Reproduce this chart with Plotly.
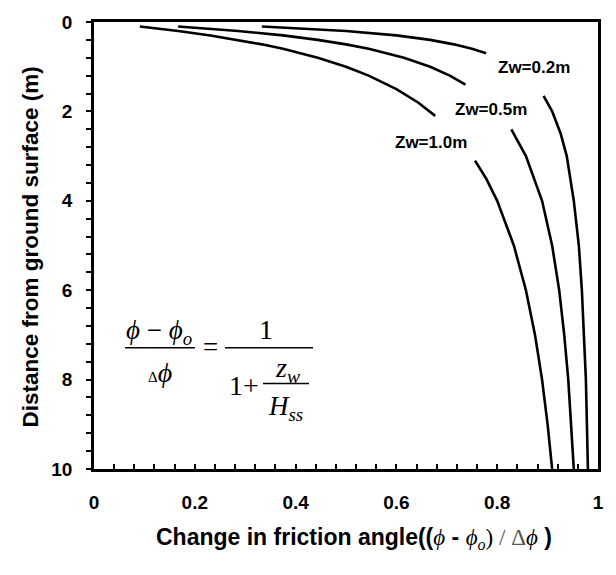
import plotly.graph_objects as go

# Depths (m) and normalised change in friction angle.
# None marks the gap where each curve is broken for its label.
depth_02 = [0.1, 0.15, 0.2, 0.3, 0.4, 0.5, 0.6, 0.7, None,
            1.65, 2.0, 2.5, 3.0, 4.0, 5.0, 6.0, 7.0, 8.0, 9.0, 10.0]
ratio_02 = [0.333, 0.429, 0.5, 0.6, 0.667, 0.714, 0.75, 0.778, None,
            0.892, 0.909, 0.926, 0.938, 0.952, 0.962, 0.968, 0.972, 0.976, 0.978, 0.980]

depth_05 = [0.1, 0.15, 0.2, 0.3, 0.4, 0.5, 0.6, 0.8, 1.0, 1.2, 1.4, None,
            2.4, 3.0, 4.0, 5.0, 6.0, 7.0, 8.0, 9.0, 10.0]
ratio_05 = [0.167, 0.231, 0.286, 0.375, 0.444, 0.5, 0.545, 0.615, 0.667, 0.706, 0.737, None,
            0.828, 0.857, 0.889, 0.909, 0.923, 0.933, 0.941, 0.947, 0.952]

depth_10 = [0.1, 0.15, 0.2, 0.3, 0.4, 0.5, 0.6, 0.8, 1.0, 1.2, 1.5, 1.8, 2.1, None,
            3.1, 3.5, 4.0, 5.0, 6.0, 7.0, 8.0, 9.0, 10.0]
ratio_10 = [0.091, 0.130, 0.167, 0.231, 0.286, 0.333, 0.375, 0.444, 0.5, 0.545, 0.6, 0.643, 0.677, None,
            0.756, 0.778, 0.8, 0.833, 0.857, 0.875, 0.889, 0.9, 0.909]

series_labels = ["Zw=0.2m", "Zw=0.5m", "Zw=1.0m"]
x_ticks = [0, 0.2, 0.4, 0.6, 0.8, 1]
x_tick_text = ["0", "0.2", "0.4", "0.6", "0.8", "1"]
y_ticks = [0, 2, 4, 6, 8, 10]
y_tick_text = ["0", "2", "4", "6", "8", "10"]

# plot-area pixel geometry (for placing text drawn on the chart)
L, R, T, B = 94, 598, 19, 469
W, H = 616, 575


def dx(px):
    return (px - L) / (R - L)


def dy(py):
    return (py - T) / (B - T) * 10


def paper_x(px):
    return (px - L) / (R - L)


def paper_y(py):
    return (B - py) / (B - T)


fig = go.Figure()
for xs, ys in [(ratio_02, depth_02), (ratio_05, depth_05), (ratio_10, depth_10)]:
    fig.add_trace(go.Scatter(x=xs, y=ys, mode="lines", connectgaps=False,
                             line=dict(color="black", width=2.6), showlegend=False))

label_pos = [(534, 65), (491, 107), (431, 140)]
for txt, (px, py) in zip(series_labels, label_pos):
    fig.add_annotation(x=dx(px), y=dy(py), text="<b>" + txt + "</b>", showarrow=False,
                       font=dict(family="Liberation Sans", size=17, color="black"),
                       xanchor="center", yanchor="middle")

PHI = "ϕ"
serif = "Liberation Serif"
eq = [
    (f"<i>{PHI}</i> − <i>{PHI}<sub>o</sub></i>", 159, 331, 27),
    (f"<span style='font-size:15px'>Δ</span><i>{PHI}</i>", 160, 372, 28),
    ("=", 210, 346, 27),
    ("1", 266, 329, 28),
    ("1+", 244, 385, 28),
    ("<i>z<sub>w</sub></i>", 287, 369, 28),
    ("<i>H<sub>ss</sub></i>", 285, 408, 27),
]
for txt, px, py, sz in eq:
    fig.add_annotation(x=dx(px), y=dy(py), text=txt, showarrow=False,
                       font=dict(family=serif, size=sz, color="black"),
                       xanchor="center", yanchor="middle")

for x0, x1, yy in [(125, 195, 347), (225, 313, 347), (263, 309, 383)]:
    fig.add_shape(type="line", x0=dx(x0), x1=dx(x1), y0=dy(yy), y1=dy(yy),
                  xref="x", yref="y", line=dict(color="black", width=1.5))

SP = "<span style='font-family:Liberation Serif;font-weight:normal'>"
xtitle = ("Change in friction angle(("
          + SP + f"<i>{PHI}</i></span>"
          + " - "
          + SP + f"<i>{PHI}<sub>o</sub></i></span>"
          + SP + ")</span>"
          + "<span style='font-family:Liberation Serif;font-weight:normal;color:#555'> / Δ</span>"
          + SP + f"<i>{PHI}</i></span>"
          + " )")

# axis titles placed as paper annotations
fig.add_annotation(xref="paper", yref="paper", x=paper_x(354), y=paper_y(539),
                   text="<b>" + xtitle + "</b>", showarrow=False,
                   font=dict(family="Liberation Sans", size=23, color="black"),
                   xanchor="center", yanchor="middle")
fig.add_annotation(xref="paper", yref="paper", x=paper_x(30), y=paper_y(246),
                   text="<b>Distance from ground surface (m)</b>", showarrow=False,
                   textangle=-90,
                   font=dict(family="Liberation Sans", size=22.5, color="black"),
                   xanchor="center", yanchor="middle")

fig.update_layout(
    width=W, height=H,
    margin=dict(l=L, r=W - R, t=T, b=H - B),
    paper_bgcolor="white", plot_bgcolor="white",
    font=dict(family="Liberation Sans", color="black"),
    xaxis=dict(range=[0, 1], tickvals=x_ticks, ticktext=x_tick_text,
               ticks="inside", ticklen=5, tickwidth=1.5, tickcolor="black",
               minor=dict(dtick=0.04, ticks="inside", ticklen=5, tickwidth=1.5, tickcolor="black"),
               showgrid=False, zeroline=False,
               showline=True, linecolor="black", linewidth=2.5, mirror=True,
               tickfont=dict(size=19, family="Liberation Sans", weight="bold"),
               ticklabelstandoff=14),
    yaxis=dict(range=[10, 0], tickvals=y_ticks, ticktext=y_tick_text,
               ticks="outside", ticklen=5, tickwidth=1.5, tickcolor="black",
               minor=dict(dtick=0.4, ticks="outside", ticklen=5, tickwidth=1.5, tickcolor="black"),
               showgrid=False, zeroline=False,
               showline=True, linecolor="black", linewidth=2.5, mirror=True,
               tickfont=dict(size=19, family="Liberation Sans", weight="bold"),
               ticklabelstandoff=10),
)

fig.write_html("out.html")
